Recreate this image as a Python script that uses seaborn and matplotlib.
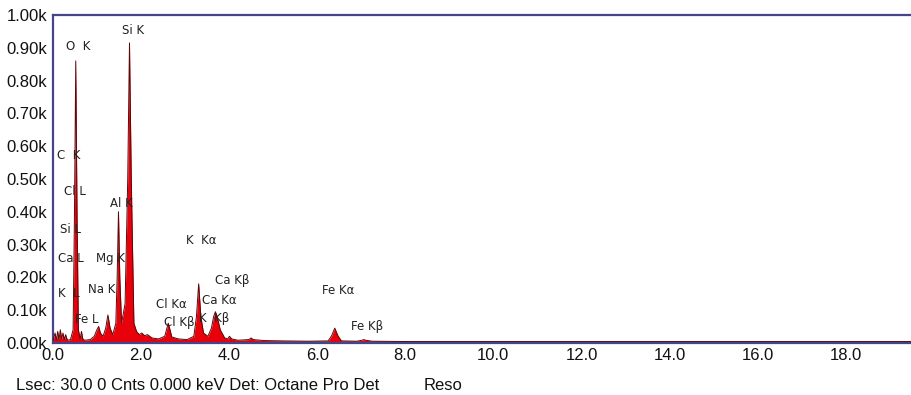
import numpy as np
import pandas as pd
import matplotlib
matplotlib.use("Agg")
import matplotlib.pyplot as plt
import seaborn as sns

# Spectrum (energy in keV, counts)
energy = [0.00, 0.05, 0.08, 0.11, 0.14, 0.17, 0.20, 0.23, 0.26, 0.29, 0.33, 0.40, 0.46,
          0.49, 0.52, 0.55, 0.58, 0.62, 0.65, 0.68, 0.72, 0.85, 0.94, 1.00, 1.04, 1.08,
          1.14, 1.20, 1.25, 1.30, 1.36, 1.43, 1.46, 1.49, 1.52, 1.56, 1.64, 1.70, 1.74,
          1.78, 1.84, 1.90, 1.96, 2.02, 2.08, 2.15, 2.25, 2.40, 2.54, 2.58, 2.62, 2.66,
          2.70, 2.85, 3.05, 3.20, 3.26, 3.31, 3.36, 3.42, 3.52, 3.60, 3.65, 3.69, 3.73,
          3.80, 3.90, 3.97, 4.01, 4.06, 4.20, 4.45, 4.50, 4.55, 4.80, 5.20, 5.80, 6.25,
          6.33, 6.40, 6.47, 6.55, 6.90, 7.02, 7.06, 7.10, 7.25, 8.00, 10.0, 14.0, 19.8]
counts = [5, 30, 8, 35, 10, 40, 12, 30, 10, 25, 8, 10, 40,
          380, 860, 380, 40, 12, 35, 12, 8, 10, 20, 40, 50, 30,
          20, 45, 85, 45, 25, 60, 200, 400, 200, 60, 120, 500, 915,
          500, 60, 35, 25, 30, 22, 25, 15, 12, 20, 40, 60, 40,
          18, 12, 10, 20, 80, 180, 80, 30, 20, 45, 80, 95, 80,
          40, 15, 12, 20, 12, 8, 10, 15, 10, 7, 6, 5, 6,
          22, 45, 22, 6, 5, 8, 10, 8, 5, 4, 4, 4, 4]

# Peak labels (text, energy, counts)
labels = ["O  K", "Si K", "C  K", "Cl L", "Si L", "Ca L", "K  L", "Fe L", "Na K", "Mg K",
          "Al K", "K  Kα", "Ca Kβ", "Cl Kα", "Ca Kα", "Cl Kβ", "K  Kβ", "Fe Kα", "Fe Kβ"]
label_x = [0.58, 1.82, 0.35, 0.50, 0.39, 0.41, 0.37, 0.76, 1.12, 1.32,
           1.56, 3.38, 4.08, 2.69, 3.77, 2.88, 3.67, 6.47, 7.14]
label_y = [905, 954, 573, 463, 345, 256, 150, 70, 162, 256,
           424, 311, 189, 116, 128, 61, 73, 159, 49]

xticks = [0, 2, 4, 6, 8, 10, 12, 14, 16, 18]
yticks = [0, 100, 200, 300, 400, 500, 600, 700, 800, 900, 1000]

df = pd.DataFrame({"energy": energy, "counts": counts})

sns.set_style("white")
plt.rcParams["font.family"] = ["Liberation Sans", "DejaVu Sans"]

fig = plt.figure(figsize=(9.11, 3.95), dpi=100)
ax = fig.add_axes([0.058, 0.132, 0.955, 0.83])

frame = "#45458a"
ax.fill_between(df["energy"], 0, df["counts"], color="#e8000b", lw=0, zorder=2)
sns.lineplot(data=df, x="energy", y="counts", ax=ax, color="#5a0808", lw=0.7, zorder=3)
ax.axhline(4, color="#7fd3e0", lw=1.5, zorder=1)

for t, x, y in zip(labels, label_x, label_y):
    ax.text(x, y, t, ha="center", va="center", fontsize=8.5, color="#222222",
            family=["DejaVu Sans"], zorder=5)

ax.set_xlim(0, 19.75)
ax.set_ylim(0, 1000)
ax.set_xticks(xticks)
ax.set_xticklabels([f"{v:.1f}" for v in xticks])
ax.set_yticks(yticks)
ax.set_yticklabels([f"{v/1000:.2f}k" for v in yticks])
ax.set_xlabel("")
ax.set_ylabel("")
ax.tick_params(axis="both", labelsize=12, colors="#111111", length=3, width=1,
               pad=1)
ax.tick_params(axis="both", color=frame)

for side in ["top", "left", "bottom"]:
    ax.spines[side].set_color(frame)
    ax.spines[side].set_linewidth(1.6)
ax.spines["right"].set_visible(False)

fig.text(0.018, 0.013, "Lsec: 30.0 0 Cnts 0.000 keV Det: Octane Pro Det",
         fontsize=12, color="#111111")
fig.text(0.465, 0.013, "Reso", fontsize=12, color="#111111")

fig.savefig("out.png", dpi=100)
